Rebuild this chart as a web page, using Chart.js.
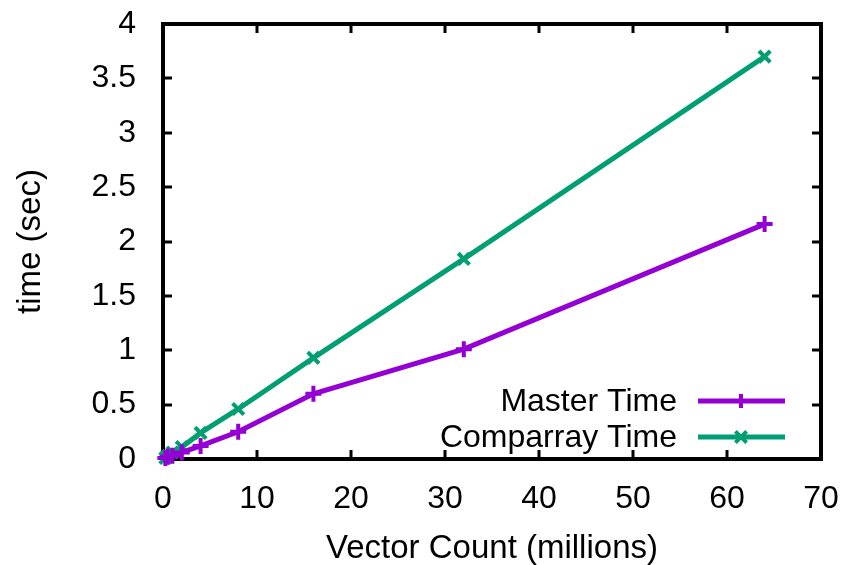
<!DOCTYPE html>
<html>
<head>
<meta charset="utf-8">
<script src="https://cdn.jsdelivr.net/npm/chart.js@4"></script>
<style>
  html, body { margin: 0; padding: 0; background: #fff; }
  #wrap { width: 844px; height: 565px; }
</style>
</head>
<body>
<div id="wrap"><canvas id="timeChart" width="844" height="565"></canvas></div>
<script>
const vectorCounts = [0.25, 0.5, 1, 2, 4, 8, 16, 32, 64];
const masterTime = [0.01, 0.02, 0.03, 0.06, 0.12, 0.25, 0.60, 1.01, 2.16];
const comparrayTime = [0.01, 0.03, 0.06, 0.11, 0.24, 0.46, 0.93, 1.84, 3.70];
const seriesNames = ["Master Time", "Comparray Time"];
const xTicks = [0, 10, 20, 30, 40, 50, 60, 70];
const yTicks = [0, 0.5, 1, 1.5, 2, 2.5, 3, 3.5, 4];

const FONT = "'Liberation Sans', Arial, sans-serif";
const purple = '#9400d3';
const green = '#009e73';

// frame with inward ticks on all four sides, like gnuplot
const framePlugin = {
  id: 'frame',
  beforeDatasetsDraw(chart) {
    const {ctx, chartArea: a, scales} = chart;
    ctx.save();
    ctx.strokeStyle = '#000';
    ctx.lineWidth = 3;
    ctx.beginPath();
    xTicks.forEach(v => {
      const px = Math.round(scales.x.getPixelForValue(v));
      ctx.moveTo(px, a.bottom); ctx.lineTo(px, a.bottom - 9);
      ctx.moveTo(px, a.top); ctx.lineTo(px, a.top + 9);
    });
    yTicks.forEach(v => {
      const py = Math.round(scales.y.getPixelForValue(v));
      ctx.moveTo(a.left, py); ctx.lineTo(a.left + 9, py);
      ctx.moveTo(a.right, py); ctx.lineTo(a.right - 9, py);
    });
    ctx.stroke();
    ctx.lineWidth = 4;
    ctx.strokeRect(a.left, a.top, a.right - a.left, a.bottom - a.top);
    ctx.restore();
  }
};

// key inside the plot, bottom right
const keyPlugin = {
  id: 'key',
  afterDatasetsDraw(chart) {
    const {ctx} = chart;
    const rows = [401, 437];
    ctx.save();
    ctx.font = '32px ' + FONT;
    ctx.textAlign = 'right';
    ctx.textBaseline = 'middle';
    chart.data.datasets.forEach((ds, i) => {
      const y = rows[i];
      ctx.fillStyle = '#000';
      ctx.fillText(ds.label, 677, y + 1);
      ctx.strokeStyle = ds.borderColor;
      ctx.lineWidth = 5;
      ctx.beginPath();
      ctx.moveTo(698, y); ctx.lineTo(785, y);
      ctx.stroke();
      ctx.lineWidth = 4;
      ctx.beginPath();
      const r = 7;
      if (ds.pointStyle === 'cross') {
        ctx.moveTo(741 - r, y); ctx.lineTo(741 + r, y);
        ctx.moveTo(741, y - r); ctx.lineTo(741, y + r);
      } else {
        const d = r * 0.8;
        ctx.moveTo(741 - d, y - d); ctx.lineTo(741 + d, y + d);
        ctx.moveTo(741 - d, y + d); ctx.lineTo(741 + d, y - d);
      }
      ctx.stroke();
    });
    ctx.restore();
  }
};

const ctx = document.getElementById('timeChart').getContext('2d');
new Chart(ctx, {
  type: 'scatter',
  data: {
    datasets: [
      {
        label: seriesNames[0],
        data: vectorCounts.map((x, i) => ({x: x, y: masterTime[i]})),
        showLine: true,
        borderColor: purple,
        backgroundColor: purple,
        borderWidth: 5,
        pointStyle: 'cross',
        pointRadius: 8,
        pointBorderWidth: 4,
        clip: false
      },
      {
        label: seriesNames[1],
        data: vectorCounts.map((x, i) => ({x: x, y: comparrayTime[i]})),
        showLine: true,
        borderColor: green,
        backgroundColor: green,
        borderWidth: 5,
        pointStyle: 'crossRot',
        pointRadius: 8,
        pointBorderWidth: 4,
        clip: false
      }
    ]
  },
  options: {
    responsive: false,
    animation: false,
    layout: { padding: { top: 24, right: 23, left: 0, bottom: 0 } },
    plugins: {
      legend: { display: false },
      tooltip: { enabled: false }
    },
    scales: {
      x: {
        type: 'linear',
        min: 0,
        max: 70,
        afterBuildTicks: s => { s.ticks = xTicks.map(v => ({value: v})); },
        afterFit: s => { s.height = 106; s.paddingLeft = 0; s.paddingRight = 0; },
        grid: { display: false },
        border: { display: false },
        ticks: { color: '#000', font: { family: FONT, size: 32 }, padding: 13, maxRotation: 0,
                 callback: v => String(v) },
        title: {
          display: true,
          text: 'Vector Count (millions)',
          color: '#000',
          font: { family: FONT, size: 33, lineHeight: 1 },
          padding: { top: 0, bottom: 0 }
        }
      },
      y: {
        type: 'linear',
        min: 0,
        max: 4,
        afterBuildTicks: s => { s.ticks = yTicks.map(v => ({value: v})); },
        afterFit: s => { s.width = 163; s.paddingTop = 0; s.paddingBottom = 0; },
        grid: { display: false },
        border: { display: false },
        ticks: { color: '#000', font: { family: FONT, size: 32 }, padding: 19,
                 callback: v => String(v) },
        title: {
          display: true,
          text: 'time (sec)',
          color: '#000',
          font: { family: FONT, size: 33, lineHeight: 1 },
          padding: { top: 14, bottom: 0 }
        }
      }
    }
  },
  plugins: [framePlugin, keyPlugin]
});
</script>
</body>
</html>
